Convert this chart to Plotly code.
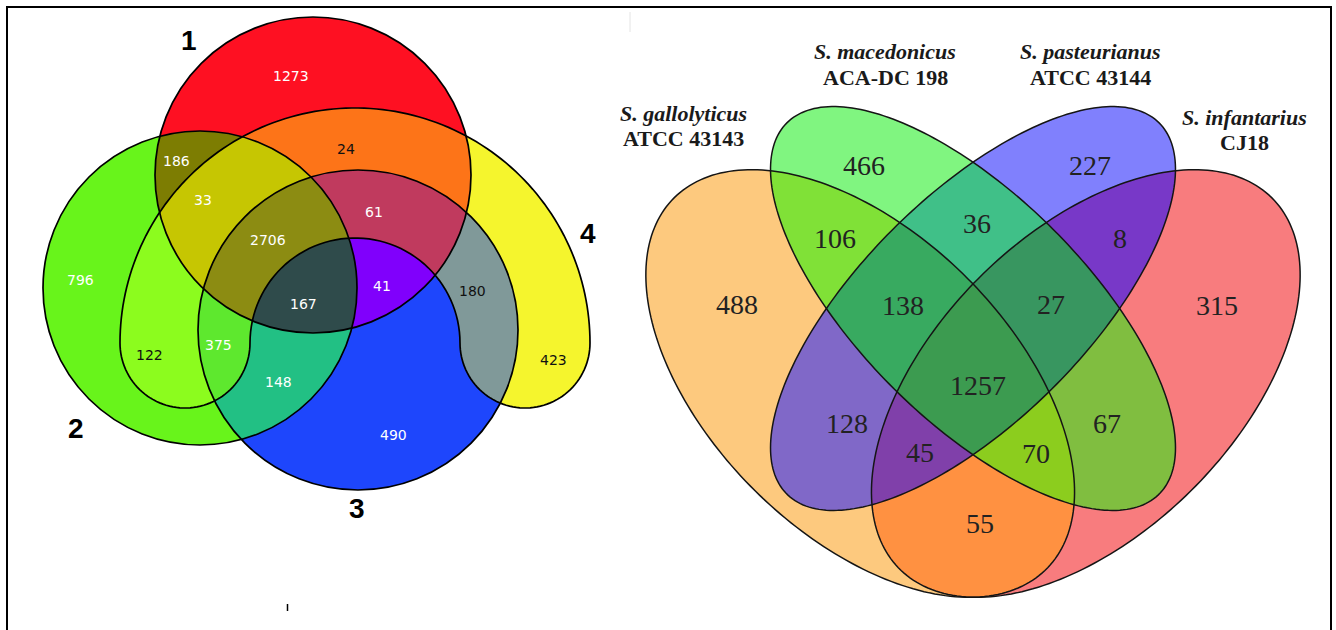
import numpy as np
import plotly.graph_objects as go

# ---------------- data ----------------
left_set_names = ['1', '2', '3', '4']
left_regions = ['1', '2', '3', '4', '12', '13', '14', '23', '24', '34',
                '123', '124', '134', '234', '1234']
left_counts = [1273, 796, 490, 423, 186, 41, 24, 148, 122, 180,
               167, 33, 61, 375, 2706]

right_set_names = ['S. gallolyticus', 'S. macedonicus', 'S. pasteurianus', 'S. infantarius']
right_strains = ['ATCC 43143', 'ACA-DC 198', 'ATCC 43144', 'CJ18']
right_regions = ['G', 'M', 'P', 'I', 'GM', 'GP', 'GI', 'MP', 'MI', 'PI',
                 'GMP', 'GMI', 'GPI', 'MPI', 'GMPI']
right_counts = [488, 466, 227, 315, 106, 128, 55, 36, 67, 8,
                138, 70, 45, 27, 1257]

# ---------------- styles / layout ----------------
left_colors = {
    '1': '#fe1022', '2': '#68f41b', '3': '#1e46fc', '4': '#f5f52d',
    '12': '#7d7d02', '13': '#8000fc', '14': '#fd7418', '23': '#22c084',
    '24': '#8cfc1e', '34': '#809999', '123': '#2f4b4b', '124': '#c6c602',
    '134': '#c03a5e', '234': '#5ee82e', '1234': '#8c8c12'}
left_text_dark = {'14', '24', '34', '4'}
left_label_pos = {
    '1': (291, 76), '14': (346, 149), '12': (176, 161), '124': (203, 200),
    '1234': (268, 240), '134': (374, 212), '2': (80, 280), '24': (149, 355),
    '234': (218, 345), '123': (303, 304), '13': (382, 286), '34': (472, 291),
    '23': (278, 382), '3': (393, 435), '4': (553, 360)}
left_setlabel_pos = [(189, 40), (76, 428), (357, 508), (588, 233)]

# circles (cx, cy, r) in pixel units for sets 1..3
circles = [(313, 175, 158), (200, 288, 157), (358, 330, 160)]
# horseshoe for set 4
H_C = (355, 343)
H_RO, H_RI = 235, 105
H_CAP = (H_RO - H_RI) / 2.0
H_CAPC = (H_RO + H_RI) / 2.0

right_colors = {
    'G': '#fdc97e', 'M': '#80f580', 'P': '#8080fd', 'I': '#f87c7e',
    'GM': '#80e137', 'GP': '#8068c8', 'GI': '#ff9141', 'MP': '#40c088',
    'MI': '#80be40', 'PI': '#7838c8', 'GMP': '#38aa60', 'GMI': '#8ccd1e',
    'GPI': '#8040aa', 'MPI': '#389660', 'GMPI': '#3c9b50'}
right_label_pos = {
    'G': (737, 304), 'M': (864, 165), 'P': (1090, 165), 'I': (1217, 305),
    'GM': (835, 238), 'MP': (977, 223), 'PI': (1120, 238), 'GMP': (903, 305),
    'MPI': (1051, 304), 'GMPI': (978, 385), 'GP': (847, 423), 'MI': (1107, 423),
    'GPI': (920, 452), 'GMI': (1036, 453), 'GI': (980, 523)}
right_setlabel_pos = [(683, 113, 138), (885, 51, 77), (1090, 51, 77), (1244, 117, 142)]

# ellipses in unit coords (cx, cy, a, b, rotation deg) -- G, M, P, I
ellipses = [(0.35, 0.47, 0.35, 0.20, 135), (0.50, 0.57, 0.35, 0.15, 135),
            (0.50, 0.57, 0.35, 0.15, 45), (0.65, 0.47, 0.35, 0.20, 45)]
X0, SX, Y0, SY = 597.0, 752.0, 736.0, 750.0

LINE = dict(color='black', width=1.7)


def scale_for(n, colors):
    cs = []
    for k in range(1, n + 1):
        c = colors[k]
        cs.append([(k - 1) / n, c])
        cs.append([k / n, c])
    return cs


# ---------------- left diagram membership ----------------
lx0, lx1, ly0, ly1 = 30, 620, 10, 500
xs = np.arange(lx0, lx1) + 0.5
ys = np.arange(ly0, ly1) + 0.5
XX, YY = np.meshgrid(xs, ys)
code = np.zeros(XX.shape, dtype=int)
for i, (cx, cy, r) in enumerate(circles):
    inside = (XX - cx) ** 2 + (YY - cy) ** 2 <= r * r
    code += inside.astype(int) << i
dd = np.hypot(XX - H_C[0], YY - H_C[1])
in4 = ((YY <= H_C[1]) & (dd >= H_RI) & (dd <= H_RO))
in4 |= np.hypot(XX - (H_C[0] - H_CAPC), YY - H_C[1]) <= H_CAP
in4 |= np.hypot(XX - (H_C[0] + H_CAPC), YY - H_C[1]) <= H_CAP
code += in4.astype(int) << 3
zl = code.astype(float)
zl[code == 0] = np.nan


def bits_left(name):
    return sum(1 << left_set_names.index(ch) for ch in name)


lcol = {bits_left(reg): left_colors[reg] for reg in left_regions}

# ---------------- right diagram membership ----------------
rx0, rx1, ry0, ry1 = 636, 1310, 100, 606
xs2 = np.arange(rx0, rx1) + 0.5
ys2 = np.arange(ry0, ry1) + 0.5
XR, YR = np.meshgrid(xs2, ys2)
U = (XR - X0) / SX
V = (Y0 - YR) / SY
code2 = np.zeros(XR.shape, dtype=int)
for i, (cx, cy, a, b, rot) in enumerate(ellipses):
    t = np.deg2rad(rot)
    du, dv = U - cx, V - cy
    xp = du * np.cos(t) + dv * np.sin(t)
    yp = -du * np.sin(t) + dv * np.cos(t)
    code2 += ((xp / a) ** 2 + (yp / b) ** 2 <= 1).astype(int) << i
zr = code2.astype(float)
zr[code2 == 0] = np.nan
rkeys = ['G', 'M', 'P', 'I']


def bits_right(name):
    return sum(1 << rkeys.index(ch) for ch in name)


rcol = {bits_right(reg): right_colors[reg] for reg in right_regions}

fig = go.Figure()
fig.add_trace(go.Heatmap(z=zl, x0=lx0 + 0.5, dx=1, y0=ly0 + 0.5, dy=1,
                         zmin=0.5, zmax=15.5, colorscale=scale_for(15, lcol),
                         showscale=False, hoverinfo='skip', zsmooth=False))
fig.add_trace(go.Heatmap(z=zr, x0=rx0 + 0.5, dx=1, y0=ry0 + 0.5, dy=1,
                         zmin=0.5, zmax=15.5, colorscale=scale_for(15, rcol),
                         showscale=False, hoverinfo='skip', zsmooth=False))

shapes = []
for (cx, cy, r) in circles:
    shapes.append(dict(type='circle', xref='x', yref='y', x0=cx - r, x1=cx + r,
                       y0=cy - r, y1=cy + r, line=LINE))

# horseshoe outline
pts = []
th = np.linspace(np.pi, 0, 120)
pts += list(zip(H_C[0] + H_RO * np.cos(th), H_C[1] - H_RO * np.sin(th)))
th = np.linspace(0, np.pi, 60)
pts += list(zip(H_C[0] + H_CAPC + H_CAP * np.cos(th), H_C[1] + H_CAP * np.sin(th)))
pts += list(zip(H_C[0] + H_RI * np.cos(th), H_C[1] - H_RI * np.sin(th)))
pts += list(zip(H_C[0] - H_CAPC + H_CAP * np.cos(th), H_C[1] + H_CAP * np.sin(th)))
path = 'M ' + ' L '.join(f'{x:.2f},{y:.2f}' for x, y in pts) + ' Z'
shapes.append(dict(type='path', xref='x', yref='y', path=path, line=LINE))

# ellipse outlines
for (cx, cy, a, b, rot) in ellipses:
    t = np.deg2rad(rot)
    s = np.linspace(0, 2 * np.pi, 240)
    u = cx + a * np.cos(s) * np.cos(t) - b * np.sin(s) * np.sin(t)
    v = cy + a * np.cos(s) * np.sin(t) + b * np.sin(s) * np.cos(t)
    px = X0 + SX * u
    py = Y0 - SY * v
    path = 'M ' + ' L '.join(f'{x:.2f},{y:.2f}' for x, y in zip(px, py)) + ' Z'
    shapes.append(dict(type='path', xref='x', yref='y', path=path,
                       line=dict(color='#151515', width=1.5)))

# frame and small marks
shapes.append(dict(type='rect', xref='x', yref='y', x0=7, x1=1331, y0=7, y1=645,
                   line=dict(color='black', width=2)))
shapes.append(dict(type='line', xref='x', yref='y', x0=287.5, x1=287.5, y0=604, y1=611,
                   line=dict(color='black', width=1.5)))
shapes.append(dict(type='line', xref='x', yref='y', x0=630, x1=630, y0=12, y1=32,
                   line=dict(color='#e4e4e4', width=1)))

ann = []
for reg, cnt in zip(left_regions, left_counts):
    x, y = left_label_pos[reg]
    ann.append(dict(x=x, y=y, xref='x', yref='y', text=str(cnt), showarrow=False,
                    font=dict(family='DejaVu Sans', size=14,
                              color='#111111' if reg in left_text_dark else 'white')))
for name, (x, y) in zip(left_set_names, left_setlabel_pos):
    ann.append(dict(x=x, y=y, xref='x', yref='y', text='<b>%s</b>' % name, showarrow=False,
                    font=dict(family='Liberation Sans', size=28, color='black')))
for reg, cnt in zip(right_regions, right_counts):
    x, y = right_label_pos[reg]
    ann.append(dict(x=x, y=y, xref='x', yref='y', text=str(cnt), showarrow=False,
                    font=dict(family='Liberation Serif', size=28, color='#222222')))
for name, strain, (x, y1, y2) in zip(right_set_names, right_strains, right_setlabel_pos):
    ann.append(dict(x=x, y=y1, xref='x', yref='y', text='<b><i>%s</i></b>' % name,
                    showarrow=False, font=dict(family='Liberation Serif', size=22, color='#1a1a1a')))
    ann.append(dict(x=x, y=y2, xref='x', yref='y', text='<b>%s</b>' % strain,
                    showarrow=False, font=dict(family='Liberation Serif', size=22, color='#1a1a1a')))

fig.update_layout(
    width=1336, height=630, margin=dict(l=0, r=0, t=0, b=0),
    paper_bgcolor='white', plot_bgcolor='white',
    xaxis=dict(range=[0, 1336], visible=False, fixedrange=True),
    yaxis=dict(range=[630, 0], visible=False, fixedrange=True),
    shapes=shapes, annotations=ann, showlegend=False, hovermode=False)

fig.write_html('out.html', config={'displayModeBar': False},
               post_script="document.body.style.margin='0px';document.body.style.overflow='hidden';")
